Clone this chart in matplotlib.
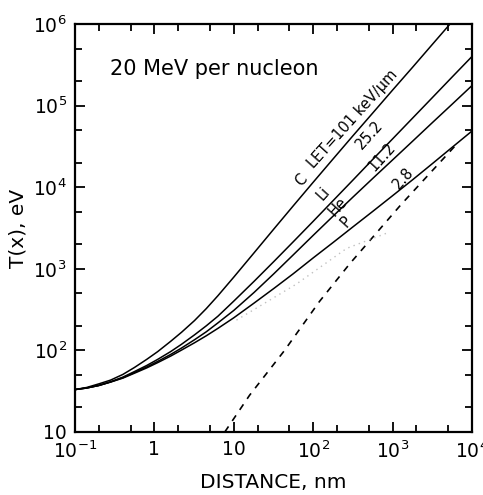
import matplotlib.pyplot as plt
from matplotlib.ticker import LogLocator, FixedLocator, NullFormatter

# Energy deposited T(x) vs radial distance for 20 MeV/u ions
distance = [0.1, 0.14, 0.2, 0.28, 0.4, 0.56, 0.8, 1.1, 1.6, 2.2, 3.2,
            4.5, 6.3, 10, 18, 32, 56, 100, 178, 316, 562, 1000, 1780,
            3160, 5620, 10000]
t_carbon = [33.1, 35.1, 38.9, 43.2, 50.7, 61.7, 77.6, 96.6, 129, 167,
            232, 325, 467, 791, 1570, 3080, 5900, 11500, 22200, 42600,
            81100, 155000, 294000, 561000, 1070000, 2040000]
t_lithium = [33.1, 34.6, 37.2, 41.2, 47.0, 55.0, 65.3, 77.6, 96.6, 119,
             155, 200, 262, 402, 702, 1230, 2140, 3820, 6840, 12200,
             21900, 39100, 70000, 125000, 224000, 400000]
t_helium = [33.1, 34.6, 37.2, 41.0, 46.2, 53.5, 62.7, 73.3, 89.1, 107,
            135, 169, 217, 309, 513, 871, 1480, 2570, 4420, 7550,
            12800, 21600, 36500, 61700, 104000, 176000]
t_proton = [33.1, 34.6, 37.2, 40.9, 45.7, 52.5, 61.0, 70.8, 85.1, 101,
            124, 151, 186, 251, 380, 575, 869, 1360, 2100, 3260,
            5050, 7870, 12300, 19400, 30800, 48800]

# dashed reference line
dash_x = [7.7, 15.8, 43.6, 120, 288, 1260, 6460]
dash_t = [10, 28.2, 100, 398, 1150, 6030, 33900]

# faint dotted curve below the proton curve
dot_x = [10.8, 61.5, 264, 916]
dot_t = [235, 650, 1780, 2820]

x_ticks = [0.1, 1, 10, 100, 1000, 10000]
x_labels = ['$10^{-1}$', '1', '10', '$10^2$', '$10^3$', '$10^4$']
y_ticks = [10, 100, 1000, 1e4, 1e5, 1e6]
y_labels = ['10', '$10^2$', '$10^3$', '$10^4$', '$10^5$', '$10^6$']

fig = plt.figure(figsize=(4.83, 4.95), dpi=100)
ax = fig.add_axes([0.1553, 0.1273, 0.8219, 0.8242])

for t in (t_carbon, t_lithium, t_helium, t_proton):
    ax.plot(distance, t, color='black', lw=1.1)
ax.plot(dash_x, dash_t, color='black', lw=1.2, linestyle=(0, (4, 4)))
ax.plot(dot_x, dot_t, color='#c0c0c0', lw=1.0, linestyle=(0, (1, 3)))

ax.set_xscale('log')
ax.set_yscale('log')
ax.set_xlim(0.1, 1e4)
ax.set_ylim(10, 1e6)

ax.xaxis.set_major_locator(FixedLocator(x_ticks))
ax.set_xticklabels(x_labels)
ax.yaxis.set_major_locator(FixedLocator(y_ticks))
ax.set_yticklabels(y_labels)
ax.xaxis.set_minor_locator(LogLocator(base=10, subs=(2, 5)))
ax.yaxis.set_minor_locator(LogLocator(base=10, subs=(2, 5)))
ax.xaxis.set_minor_formatter(NullFormatter())
ax.yaxis.set_minor_formatter(NullFormatter())

ax.tick_params(which='both', direction='in', top=True, right=True,
               width=1.3, labelsize=13.5)
ax.tick_params(which='major', length=7, pad=6)
ax.tick_params(which='minor', length=5)
for s in ax.spines.values():
    s.set_linewidth(1.6)

ax.set_xlabel('DISTANCE, nm', fontsize=14.5, labelpad=8)
ax.set_ylabel('T(x), eV', fontsize=14.5, labelpad=4)

ax.text(0.275, 2.37e5, '20 MeV per nucleon', fontsize=15, va='baseline')

# curve labels along the lines
lab = dict(fontsize=10.5, rotation=48, ha='center', va='center',
           rotation_mode='anchor')
ax.text(71.6, 12250, 'C', **lab)
ax.text(314, 68600, 'LET=101 keV/\u03bcm', **lab)
ax.text(135, 8260, 'Li', **lab)
ax.text(203, 5710, 'He', **lab)
ax.text(264, 3750, 'P', **lab)
ax.text(514, 43700, '25.2', **lab)
ax.text(728, 23400, '11.2', **lab)
ax.text(1375, 12970, '2.8', **lab)

fig.savefig('out.png', dpi=100)
